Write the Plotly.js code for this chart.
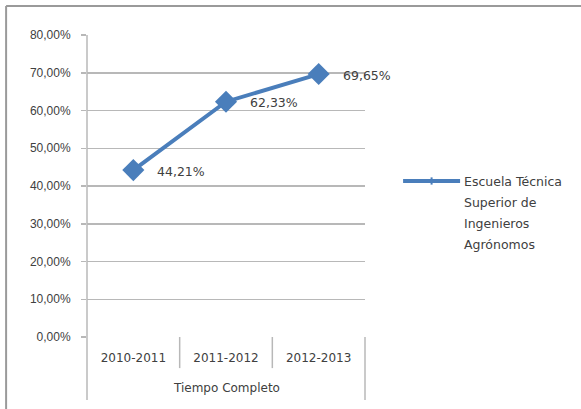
<!DOCTYPE html>
<html>
<head>
<meta charset="utf-8">
<script src="https://cdn.plot.ly/plotly-3.0.1.min.js"></script>
<style>html,body{margin:0;padding:0;background:#fff;}#chart{width:581px;height:409px;}</style>
</head>
<body>
<div id="chart"></div>
<script>
var categories = ["2010-2011", "2011-2012", "2012-2013"];
var values = [0.4421, 0.6233, 0.6965];
var seriesNameLines = ["Escuela Técnica", "Superior de", "Ingenieros", "Agrónomos"];
var groupLabel = "Tiempo Completo";
var yTickValues = [0, 0.1, 0.2, 0.3, 0.4, 0.5, 0.6, 0.7, 0.8];

var blue = "#4a7ebb";
var grey = "#b8b8b8";
var textCol = "#404040";

var trace = {
  x: categories,
  y: values,
  type: "scatter",
  mode: "lines+markers",
  name: seriesNameLines.join(" "),
  showlegend: false,
  line: {color: blue, width: 4},
  marker: {symbol: "diamond", size: 17, color: blue},
  hoverinfo: "skip"
};

function fmtPct(v) {
  return (v * 100).toFixed(2).replace(".", ",") + "%";
}

var annotations = values.map(function (v, i) {
  return {
    x: categories[i], y: v, xref: "x", yref: "y",
    text: fmtPct(v), showarrow: false, xanchor: "left", yanchor: "middle",
    xshift: 22, yshift: -1,
    font: {family: "DejaVu Sans", size: 12.5, color: textCol}
  };
});
annotations.push({
  x: 1, y: -0.169, xref: "x", yref: "paper", text: groupLabel, showarrow: false,
  xanchor: "center", yanchor: "middle",
  font: {family: "DejaVu Sans", size: 12, color: textCol}
});
// manual legend text, one line each (21 px spacing)
var plotH = 302, legendY0 = 181;
seriesNameLines.forEach(function (t, i) {
  var py = legendY0 + i * 21;
  annotations.push({
    x: 1.35, y: (337 - py) / plotH, xref: "paper", yref: "paper", text: t, showarrow: false,
    xanchor: "left", yanchor: "middle", align: "left",
    font: {family: "DejaVu Sans", size: 12.5, color: textCol}
  });
});

var shapes = [];
// outer border
shapes.push({type: "line", xref: "paper", yref: "paper", x0: -0.291, x1: 1.8, y0: 1.096, y1: 1.096, line: {color: "#9a9a9a", width: 2}});
shapes.push({type: "line", xref: "paper", yref: "paper", x0: -0.291, x1: -0.291, y0: 1.096, y1: -0.3, line: {color: "#9a9a9a", width: 2}});
// left axis line extending down
shapes.push({type: "line", xref: "paper", yref: "paper", x0: 0, x1: 0, y0: 1, y1: -0.209, line: {color: grey, width: 1.5}});
shapes.push({type: "line", xref: "paper", yref: "paper", x0: 1, x1: 1, y0: 0, y1: -0.209, line: {color: grey, width: 1.5}});
// category dividers
[0.5, 1.5].forEach(function (p) {
  shapes.push({type: "line", xref: "x", yref: "paper", x0: p, x1: p, y0: 0, y1: -0.103, line: {color: grey, width: 1.5}});
});
// legend symbol
var ly = (337 - 181) / plotH;
shapes.push({type: "line", xref: "paper", yref: "paper", x0: 1.137, x1: 1.342, y0: ly, y1: ly, line: {color: blue, width: 4}});
shapes.push({type: "line", xref: "paper", yref: "paper", x0: 1.2395, x1: 1.2395, y0: ly - 0.012, y1: ly + 0.012, line: {color: blue, width: 2}});

var layout = {
  width: 581, height: 409,
  margin: {l: 87, r: 216, t: 35, b: 72},
  paper_bgcolor: "#ffffff", plot_bgcolor: "#ffffff",
  separators: ",.",
  showlegend: false,
  xaxis: {
    type: "category", range: [-0.5, 2.5], fixedrange: true,
    showgrid: false, zeroline: false, showline: false, ticks: "",
    ticklabelstandoff: 12,
    tickfont: {family: "DejaVu Sans", size: 12, color: textCol}
  },
  yaxis: {
    range: [0, 0.8], tickvals: yTickValues, tickformat: ".2%",
    showgrid: true, gridcolor: grey, gridwidth: 1.5,
    zeroline: false, showline: false,
    ticks: "outside", ticklen: 5, tickcolor: grey, tickwidth: 1.5,
    ticklabelstandoff: 8,
    tickfont: {family: "Liberation Sans", size: 12, color: textCol}
  },
  annotations: annotations,
  shapes: shapes
};

Plotly.newPlot("chart", [trace], layout, {displayModeBar: false, staticPlot: true});
</script>
</body>
</html>
